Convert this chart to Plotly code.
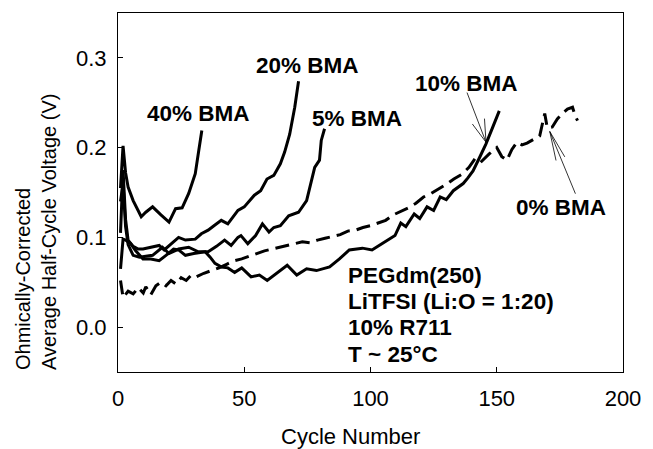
import plotly.graph_objects as go

# ---- data ----
bma40_x = [1, 2, 3, 4, 6, 8.5, 9.2, 11, 13.7, 17, 20.2, 22.8, 25.4, 28, 30.6, 32, 33.2]
bma40_y = [0.155, 0.202, 0.172, 0.156, 0.141, 0.127, 0.123, 0.128, 0.134, 0.125, 0.117, 0.132, 0.133, 0.149, 0.171, 0.197, 0.219]

bma20_x = [1, 2, 3, 4, 6, 8, 9.9, 13, 16.3, 18.3, 21, 24, 26.7, 30.6, 33, 35.7, 38, 40.9, 43.5, 45.5, 47.5, 50,
           52, 54, 56.5, 59, 61.7, 64.3, 66, 68, 70, 71.5]
bma20_y = [0.105, 0.175, 0.120, 0.097, 0.090, 0.087, 0.087, 0.089, 0.091, 0.086, 0.093, 0.100, 0.097, 0.098, 0.104,
           0.108, 0.113, 0.119, 0.115, 0.123, 0.130, 0.134, 0.140, 0.147, 0.152, 0.165, 0.169, 0.182, 0.195, 0.215, 0.245, 0.274]

bma5_x = [1, 2, 3, 4, 6, 8.5, 11, 13.7, 17.6, 20.2, 24, 28, 31.8, 35.7, 39, 42.2, 44.8, 47.5, 48.7, 51.4, 54.5,
          57.2, 59.8, 61.7, 64.3, 67.6, 71.5, 74.7, 76.6, 77.9, 79.8, 80.5, 81.8]
bma5_y = [0.140, 0.160, 0.112, 0.092, 0.080, 0.078, 0.079, 0.080, 0.089, 0.082, 0.087, 0.089, 0.084, 0.084, 0.090,
          0.097, 0.091, 0.100, 0.102, 0.093, 0.102, 0.115, 0.106, 0.111, 0.113, 0.124, 0.128, 0.141, 0.163, 0.178,
          0.186, 0.208, 0.221]

bma10_x = [1, 2, 3, 5, 7, 9.9, 13, 16.3, 19, 22, 24, 26.7, 30, 34.5, 36.5, 38.4, 41, 43.5, 46.2, 49, 52.7, 56,
           59.1, 63, 67, 70.8, 74.7, 78.6, 83.8, 87.7, 91.6, 96.8, 100.6, 104.5, 107, 109.7, 112, 114, 117.3, 119.5,
           122.4, 125, 127.6, 130, 132.8, 136.7, 138.5, 140.6, 143.2, 145.7, 148.3, 151]
bma10_y = [0.065, 0.098, 0.097, 0.093, 0.085, 0.076, 0.076, 0.074, 0.080, 0.087, 0.086, 0.080, 0.082, 0.084, 0.078,
           0.071, 0.067, 0.066, 0.061, 0.066, 0.056, 0.058, 0.052, 0.060, 0.069, 0.058, 0.065, 0.063, 0.067, 0.076,
           0.086, 0.088, 0.086, 0.093, 0.097, 0.102, 0.116, 0.112, 0.126, 0.121, 0.134, 0.130, 0.145, 0.142, 0.152,
           0.160, 0.166, 0.174, 0.189, 0.204, 0.222, 0.241]

bma0_x = [1, 2, 4, 6, 8, 10, 11, 13, 15, 17, 19, 21, 23, 25, 27, 29, 31, 34, 37, 40, 43, 46, 49, 52, 55, 58, 61,
          64, 67, 70, 73, 76, 79, 82, 85, 88, 91, 94, 97, 100, 103, 106, 109, 112, 115, 118, 121, 124, 127, 130,
          133, 136, 139, 141, 143, 145, 147, 150, 152, 154, 156, 158, 160, 162, 164, 167, 169, 170, 172, 174, 176,
          178, 180, 181, 182]
bma0_y = [0.052, 0.033, 0.040, 0.037, 0.044, 0.038, 0.045, 0.036, 0.046, 0.050, 0.046, 0.052, 0.048, 0.055, 0.052,
          0.058, 0.056, 0.060, 0.063, 0.066, 0.070, 0.074, 0.076, 0.079, 0.082, 0.085, 0.087, 0.089, 0.091, 0.093,
          0.095, 0.094, 0.097, 0.099, 0.101, 0.103, 0.107, 0.108, 0.111, 0.113, 0.116, 0.119, 0.125, 0.129, 0.133,
          0.138, 0.145, 0.149, 0.154, 0.159, 0.165, 0.170, 0.178, 0.186, 0.182, 0.188, 0.193, 0.200, 0.190, 0.186,
          0.198, 0.206, 0.203, 0.205, 0.208, 0.213, 0.238, 0.222, 0.223, 0.232, 0.238, 0.243, 0.245, 0.236, 0.230]

x_ticks = [0, 50, 100, 150, 200]
y_ticks = [0.0, 0.1, 0.2, 0.3]

curve_labels = [("40% BMA", 31.8, 0.238), ("20% BMA", 75.0, 0.292), ("5% BMA", 94.8, 0.233),
                ("10% BMA", 137.9, 0.272), ("0% BMA", 175.5, 0.133)]
info_lines = ["PEGdm(250)", "LiTFSI (Li:O = 1:20)", "10% R711", "T ~ 25°C"]

FONT = "Liberation Sans, Arial, sans-serif"

fig = go.Figure()
for xs, ys, dash in [(bma40_x, bma40_y, "solid"), (bma20_x, bma20_y, "solid"), (bma5_x, bma5_y, "solid"),
                     (bma10_x, bma10_y, "solid"), (bma0_x, bma0_y, "14px,7px")]:
    fig.add_trace(go.Scatter(x=xs, y=ys, mode="lines",
                             line=dict(color="black", width=3, dash=dash),
                             showlegend=False, hoverinfo="skip"))

ann = []
for t, x, y in curve_labels:
    ann.append(dict(x=x, y=y, xref="x", yref="y", text="<b>%s</b>" % t, showarrow=False,
                    font=dict(family=FONT, size=22.5, color="black"), xanchor="center", yanchor="middle"))

info_y = [0.058, 0.029, 0.0, -0.030]
for t, y in zip(info_lines, info_y):
    ann.append(dict(x=90.1, y=y, xref="x", yref="y", text="<b>%s</b>" % t, showarrow=False,
                    font=dict(family=FONT, size=22.5, color="black"), xanchor="left", yanchor="middle"))

# arrows (main line + open arrowhead barbs)
def arrow(tip, tail):
    return dict(x=tip[0], y=tip[1], ax=tail[0], ay=tail[1], xref="x", yref="y", axref="x", ayref="y",
                text="", showarrow=True, arrowhead=0, arrowwidth=0.8, arrowcolor="black", standoff=0,
                startstandoff=0)

tip10 = (145.75, 0.206)
ann += [arrow(tip10, (138.0, 0.263)), arrow(tip10, (139.9, 0.228)), arrow(tip10, (145.1, 0.234))]
tip0 = (171.0, 0.218)
ann += [arrow(tip0, (181.4, 0.147)), arrow(tip0, (173.6, 0.184)), arrow(tip0, (177.3, 0.188))]

# axis titles
ann.append(dict(x=-0.161, y=0.389, xref="paper", yref="paper", textangle=-90, align="left",
                text="Ohmically-Corrected<br>Average Half-Cycle Voltage (V)", showarrow=False,
                font=dict(family=FONT, size=20, color="black"), xanchor="center", yanchor="middle"))
ann.append(dict(x=0.460, y=-0.181, xref="paper", yref="paper", text="Cycle Number", showarrow=False,
                font=dict(family=FONT, size=22, color="black"), xanchor="center", yanchor="middle"))

fig.update_layout(
    width=653, height=449,
    margin=dict(l=118, r=20, t=12, b=77),
    paper_bgcolor="white", plot_bgcolor="white",
    annotations=ann,
    xaxis=dict(range=[0, 200], tickvals=x_ticks, ticks="inside", ticklen=5, tickcolor="black",
               showline=True, linecolor="black", linewidth=1, mirror=True, showgrid=False, zeroline=False,
               tickfont=dict(family=FONT, size=22, color="black"), ticklabelstandoff=7),
    yaxis=dict(range=[-0.05, 0.35], tickvals=y_ticks, tickformat=".1f", ticks="inside", ticklen=5,
               tickcolor="black", showline=True, linecolor="black", linewidth=1, mirror=True, showgrid=False,
               zeroline=False, tickfont=dict(family=FONT, size=22, color="black"), ticklabelstandoff=6),
)

fig.write_html("out.html")
